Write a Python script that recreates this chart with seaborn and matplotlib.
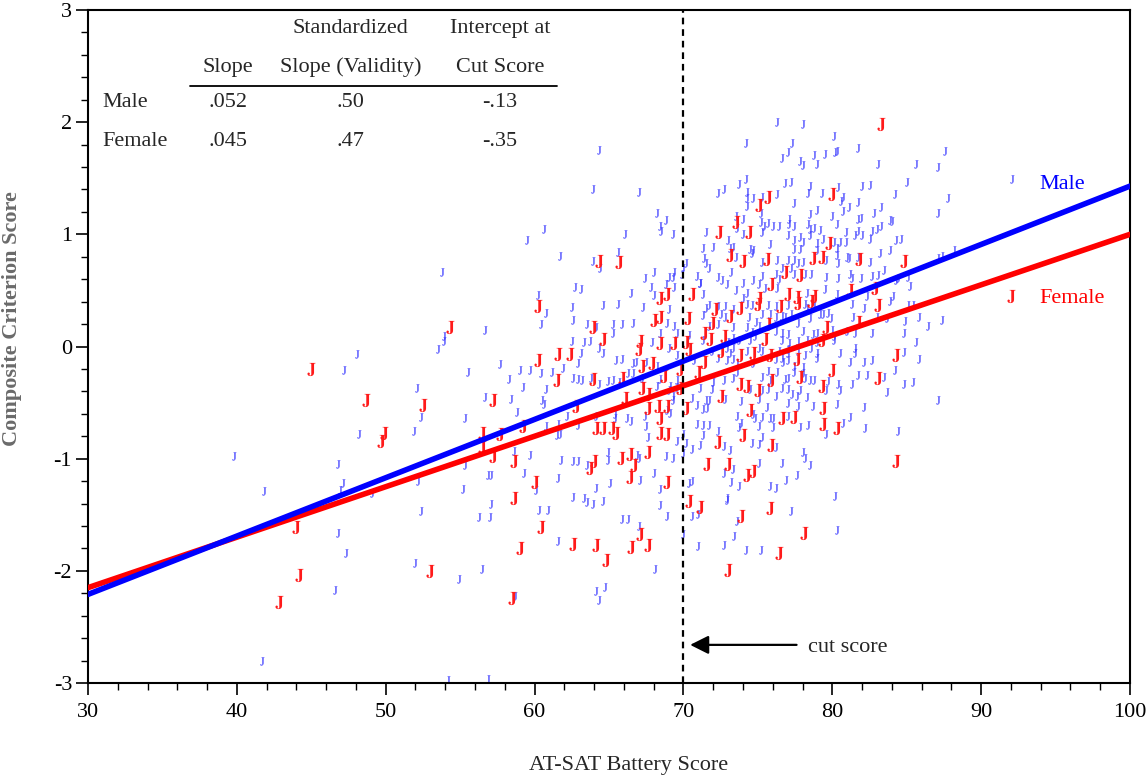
import numpy as np
import pandas as pd
import matplotlib
matplotlib.use("Agg")
import matplotlib.pyplot as plt
from matplotlib.ticker import MultipleLocator
import seaborn as sns

# ---------------- data ----------------
groups = ["Male", "Female"]
slopes = [0.052, 0.045]
validities = [0.50, 0.47]
cut_intercepts = [-0.13, -0.35]
cut_score = 70
x_range = [30, 100]
y_range = [-3, 3]
x_ticks = [30, 40, 50, 60, 70, 80, 90, 100]
y_ticks = [-3, -2, -1, 0, 1, 2, 3]

male_pts = [
    (53.8, 0.66),
    (64.3, 1.75), (63.9, 1.40), (67.0, 1.38), (68.2, 1.19), (68.8, 1.13), (68.4, 1.07), (68.5, 1.03), (69.3, 1.00),
    (60.6, 1.05), (59.5, 0.95), (66.1, 1.00), (61.7, 0.81), (65.6, 0.84), (63.9, 0.76), (64.4, 0.70), (60.2, 0.46),
    (62.7, 0.53), (63.1, 0.51), (66.5, 0.48), (67.4, 0.61), (68.0, 0.66), (67.8, 0.53), (68.0, 0.46), (68.8, 0.56),
    (69.0, 0.62), (69.3, 0.62), (69.4, 0.66), (69.4, 0.53), (70.0, 0.70), (70.2, 0.74), (69.9, 0.65), (70.9, 0.63),
    (71.1, 0.57),
    (76.3, 2.00), (78.0, 1.98), (80.1, 1.88), (74.2, 1.81), (77.3, 1.81), (77.0, 1.73), (76.6, 1.68), (78.8, 1.71),
    (79.5, 1.72), (80.2, 1.73), (80.3, 1.74), (81.7, 1.77), (87.6, 1.74), (77.8, 1.65), (78.0, 1.62), (79.0, 1.63),
    (83.1, 1.63), (85.6, 1.63), (87.1, 1.60), (74.2, 1.49), (73.7, 1.45), (76.8, 1.46), (77.2, 1.47), (78.5, 1.43),
    (79.3, 1.37), (80.4, 1.42), (82.0, 1.43), (82.5, 1.44), (85.0, 1.47), (72.3, 1.37), (72.7, 1.40), (74.3, 1.38),
    (78.4, 1.37), (84.2, 1.36), (87.8, 1.32), (74.3, 1.32), (74.7, 1.32), (75.3, 1.33), (76.3, 1.36), (80.7, 1.33),
    (80.6, 1.30), (81.7, 1.29), (74.3, 1.25), (77.4, 1.28), (78.5, 1.18), (79.0, 1.22), (81.1, 1.24), (80.7, 1.21),
    (83.3, 1.24), (82.8, 1.19), (73.5, 1.16), (74.0, 1.14), (75.2, 1.19), (77.1, 1.14), (80.0, 1.16), (81.7, 1.14),
    (81.9, 1.15), (83.9, 1.13), (87.1, 1.19), (71.5, 1.02), (73.6, 1.06), (75.2, 1.11), (75.4, 1.07), (75.7, 1.10),
    (76.0, 1.07), (76.4, 1.07), (77.1, 1.09), (77.4, 1.07), (78.4, 1.09), (78.5, 1.05), (78.8, 1.06), (79.2, 1.04),
    (80.3, 1.09), (80.9, 1.02), (81.7, 1.03), (82.0, 0.99), (82.7, 1.03), (83.0, 1.05), (83.3, 1.07), (73.0, 0.95),
    (73.3, 0.89), (74.0, 1.00), (75.3, 1.02), (75.8, 0.91), (77.0, 0.99), (77.4, 0.95), (77.8, 0.98), (78.0, 0.93),
    (78.5, 0.99), (79.0, 0.92), (79.4, 0.96), (80.1, 0.93), (80.5, 0.93), (80.3, 0.88), (80.9, 0.93), (81.5, 0.99),
    (82.5, 0.96), (84.3, 0.95), (84.6, 0.96), (71.3, 0.88), (72.0, 0.89), (73.1, 0.88), (74.5, 0.87), (74.7, 0.86),
    (74.6, 0.83), (77.4, 0.87), (77.8, 0.87), (79.0, 0.86), (80.3, 0.82), (81.0, 0.80), (81.7, 0.80), (83.2, 0.83),
    (83.9, 0.86), (71.4, 0.79), (71.5, 0.74), (71.7, 0.70), (73.5, 0.80), (75.3, 0.75), (76.3, 0.77), (77.0, 0.77),
    (77.4, 0.77), (77.7, 0.74), (78.0, 0.75), (79.6, 0.77), (80.4, 0.74), (81.1, 0.79), (82.5, 0.75), (72.3, 0.62),
    (72.6, 0.59), (72.9, 0.56), (73.2, 0.66), (74.0, 0.57), (74.7, 0.59), (75.3, 0.63), (75.1, 0.56), (76.2, 0.65),
    (76.4, 0.60), (76.6, 0.70), (77.2, 0.70), (77.4, 0.65), (78.2, 0.65), (78.6, 0.65), (79.6, 0.62), (80.4, 0.61),
    (81.2, 0.65), (81.3, 0.61), (81.9, 0.61), (82.7, 0.63), (83.1, 0.64), (83.5, 0.68), (84.3, 0.59), (85.1, 0.62),
    (71.1, 0.57), (71.3, 0.47), (73.5, 0.50), (74.3, 0.48), (74.0, 0.43), (75.5, 0.52), (76.3, 0.52), (78.3, 0.48),
    (79.5, 0.51), (80.3, 0.47), (82.3, 0.45), (84.1, 0.45), (85.2, 0.54),
    (92.1, 1.49), (84.0, 1.12), (87.1, 0.79), (87.4, 0.81), (88.2, 0.86), (83.9, 0.41), (85.1, 0.37), (85.4, 0.37),
    (84.9, 0.23), (85.8, 0.26), (86.4, 0.18), (87.4, 0.24), (84.4, 0.61),
    (48.1, -0.07), (47.2, -0.21), (53.9, 0.09), (53.9, 0.05), (53.5, -0.02), (52.1, -0.37), (52.4, -0.63), (51.9, -0.75),
    (48.2, -0.78), (39.8, -0.98), (46.8, -1.05), (47.1, -1.22), (52.2, -1.20), (41.8, -1.29), (46.9, -1.28), (49.1, -1.31),
    (46.8, -1.66), (47.3, -1.84), (46.6, -2.17), (52.0, -1.93), (52.4, -1.47), (54.9, -2.07), (41.7, -2.80), (54.2, -2.97),
    (57.1, -1.40), (56.3, -1.52), (57.0, -1.52), (60.3, -1.46), (60.9, -1.46), (63.5, -1.39), (63.9, -1.40), (64.6, -1.38),
    (68.4, -1.41), (68.9, -1.51), (65.9, -1.54), (66.3, -1.54), (67.0, -1.60), (61.6, -1.73), (56.5, -1.98), (68.1, -1.98),
    (64.1, -2.18), (64.7, -2.14), (64.3, -2.26), (58.7, -2.22), (56.9, -2.96), (70.0, -1.67), (70.6, -1.51), (71.0, -1.49),
    (71.0, -1.78),
    (73.6, -1.56), (73.4, -1.69), (72.7, -1.77), (74.2, -1.81), (75.2, -1.81), (77.2, -1.47), (80.3, -1.64), (72.9, -1.37),
    (71.5, 0.34), (71.7, 0.37), (72.3, 0.36), (72.8, 0.36), (73.3, 0.33), (74.3, 0.38), (74.6, 0.37), (75.7, 0.37),
    (76.2, 0.36), (77.0, 0.37), (78.2, 0.38), (78.3, 0.34), (78.8, 0.36), (81.3, 0.38), (82.1, 0.34),
    (71.3, 0.28), (72.5, 0.29), (72.8, 0.26), (74.4, 0.26), (74.9, 0.22), (75.3, 0.29), (75.8, 0.29), (76.2, 0.26),
    (76.6, 0.27), (76.8, 0.26), (77.2, 0.29), (77.7, 0.21), (78.5, 0.25), (79.2, 0.29), (79.4, 0.29), (79.7, 0.30),
    (79.9, 0.25), (81.4, 0.26), (83.0, 0.26), (83.7, 0.25),
    (71.7, 0.18), (72.3, 0.20), (73.3, 0.17), (74.3, 0.17), (74.6, 0.13), (75.1, 0.18), (76.2, 0.14), (76.6, 0.12),
    (77.0, 0.11), (78.0, 0.14), (78.7, 0.11), (79.0, 0.12), (80.0, 0.15), (80.1, 0.09), (81.0, 0.14), (81.5, 0.12),
    (82.7, 0.12), (84.8, 0.12), (71.3, 0.06), (73.0, 0.04), (73.3, 0.08), (73.7, 0.06), (74.5, 0.06), (74.8, 0.09),
    (76.6, 0.06), (77.1, 0.03), (77.7, 0.05), (78.3, 0.06), (79.0, 0.04), (80.1, 0.06), (85.6, 0.04),
    (71.9, -0.04), (72.9, -0.01), (73.1, -0.06), (73.3, -0.01), (74.3, -0.04), (75.1, -0.01), (75.3, -0.04), (76.4, -0.04),
    (77.0, -0.02), (77.0, -0.06), (77.7, -0.04), (78.6, -0.01), (79.0, -0.06), (80.5, -0.06), (81.5, -0.01), (81.5, -0.06),
    (84.8, -0.05), (85.8, -0.11), (72.3, -0.10), (72.9, -0.12), (73.3, -0.11), (76.2, -0.11), (76.6, -0.10), (77.0, -0.12),
    (78.2, -0.08), (79.0, -0.10), (81.2, -0.14), (82.1, -0.14), (82.7, -0.12), (73.6, -0.15), (74.7, -0.15), (76.7, -0.14),
    (77.4, -0.17), (78.0, -0.18), (84.2, -0.21),
    (72.0, -0.32), (72.7, -0.30), (73.3, -0.28), (73.6, -0.23), (75.3, -0.27), (75.7, -0.22), (75.8, -0.30), (76.3, -0.23),
    (76.8, -0.29), (77.0, -0.28), (77.4, -0.23), (78.0, -0.24), (78.2, -0.28), (78.5, -0.30), (78.8, -0.30), (79.7, -0.31),
    (80.4, -0.33), (81.3, -0.33), (81.7, -0.25), (82.3, -0.25), (83.5, -0.27), (84.8, -0.33), (85.4, -0.32), (71.1, -0.37),
    (71.9, -0.38), (74.5, -0.38), (75.3, -0.39), (75.7, -0.38), (76.2, -0.44), (76.6, -0.37), (77.0, -0.38), (77.3, -0.42),
    (77.6, -0.44), (77.8, -0.39), (78.3, -0.45), (79.6, -0.39), (80.5, -0.39), (83.7, -0.41), (71.5, -0.48), (71.7, -0.48),
    (72.8, -0.47), (73.9, -0.49), (75.1, -0.47), (77.0, -0.50), (77.7, -0.53), (78.7, -0.53), (80.3, -0.51), (87.1, -0.48),
    (71.3, -0.56), (71.6, -0.55), (73.6, -0.62), (73.9, -0.68), (74.7, -0.60), (74.8, -0.64), (75.3, -0.63), (75.6, -0.54),
    (75.8, -0.64), (76.0, -0.64), (77.0, -0.62), (77.8, -0.72), (78.4, -0.70), (80.7, -0.68), (81.2, -0.63), (82.1, -0.54),
    (82.2, -0.73), (84.4, -0.75), (71.3, -0.70), (71.7, -0.70), (73.7, -0.72), (75.1, -0.71), (76.0, -0.72), (74.6, -0.86),
    (75.1, -0.87), (75.3, -0.81), (76.2, -0.90), (71.3, -0.79), (72.3, -0.75), (72.7, -0.89), (73.1, -0.92), (79.6, -0.78),
    (78.0, -0.94), (78.2, -0.99),
    (73.3, -1.09), (75.1, -1.04), (76.6, -1.04), (78.5, -1.06), (72.7, -1.13), (73.2, -1.21), (73.7, -1.24), (75.8, -1.24),
    (76.2, -1.26), (76.9, -1.19), (77.6, -1.15), (80.2, -1.33), (72.9, -1.35),
    (62.5, 0.35), (64.6, 0.37), (65.6, 0.38), (67.3, 0.35), (69.0, 0.33), (60.8, 0.30), (63.5, 0.20), (64.1, 0.17),
    (65.3, 0.20), (65.9, 0.20), (66.6, 0.21), (68.9, 0.21), (69.4, 0.18), (62.6, 0.24), (60.4, 0.20), (56.7, 0.15),
    (65.3, 0.12), (68.4, 0.12), (69.6, 0.12), (70.4, 0.10), (62.5, 0.05), (63.3, 0.04), (63.7, 0.05), (64.3, -0.01),
    (67.9, 0.04), (69.0, -0.01), (63.1, -0.06), (64.6, -0.06), (65.5, -0.12), (65.9, -0.11), (62.9, -0.15), (66.6, -0.15),
    (66.8, -0.14), (67.5, -0.14), (68.2, -0.17), (69.6, -0.08), (70.7, -0.12), (57.7, -0.16), (55.5, -0.23), (59.0, -0.21),
    (59.7, -0.21), (60.4, -0.24), (61.2, -0.23), (61.9, -0.19), (58.3, -0.29), (62.6, -0.28), (62.9, -0.29), (63.2, -0.30),
    (63.8, -0.28), (64.3, -0.33), (64.9, -0.31), (65.3, -0.30), (65.7, -0.32), (66.3, -0.24), (66.6, -0.24), (67.2, -0.28),
    (68.2, -0.35), (69.1, -0.35), (69.6, -0.30), (59.2, -0.36), (60.8, -0.38), (68.4, -0.29), (69.6, -0.36), (69.0, -0.39),
    (69.3, -0.44), (69.3, -0.48), (68.9, -0.57), (69.1, -0.59), (70.6, -0.46), (70.9, -0.52), (56.7, -0.45), (58.4, -0.47),
    (60.5, -0.48), (60.6, -0.51), (62.2, -0.62), (58.8, -0.58), (61.6, -0.69), (62.9, -0.70), (64.1, -0.62), (65.4, -0.60),
    (65.4, -0.64), (66.2, -0.64), (66.5, -0.66), (67.4, -0.62), (67.5, -0.71), (55.3, -0.64), (60.8, -0.71), (61.5, -0.79),
    (61.7, -0.78), (67.6, -0.81), (69.6, -0.84), (70.2, -0.86), (70.0, -0.78), (70.9, -0.69), (58.6, -0.93), (59.7, -0.97),
    (61.8, -1.01), (62.6, -1.02), (62.9, -1.02), (63.5, -1.06), (64.9, -0.94), (64.9, -1.01), (66.9, -0.97), (67.0, -0.99),
    (68.8, -0.98), (69.3, -0.99), (70.0, -0.95), (70.6, -0.91), (71.1, -0.88), (55.3, -1.06), (56.9, -1.15), (57.1, -1.15),
    (59.3, -1.13), (61.6, -1.17), (65.1, -1.22), (67.1, -1.19), (68.0, -1.13), (55.2, -1.27), (60.1, -1.28), (62.6, -1.34),
    (63.3, -1.35), (64.1, -1.26), (68.4, -1.27), (70.4, -1.22), (70.6, -1.20),
]
male_x = [p[0] for p in male_pts]
male_y = [p[1] for p in male_pts]

female_x = [45.0, 48.7, 52.5, 49.9, 49.7, 54.3, 44.0, 44.2, 42.8, 53.0,
            60.2, 63.9, 64.6, 67.1, 67.0, 68.4, 68.0, 68.4, 70.3, 69.4,
            70.2, 70.4, 60.2, 61.6, 62.4, 63.9, 61.5, 65.9, 67.2, 67.9,
            68.7, 69.8, 71.0, 67.2, 67.6, 66.1, 67.6, 68.3, 68.9, 69.8,
            70.2, 57.2, 62.8, 68.4, 56.5, 57.7, 59.2, 64.1, 64.6, 65.2,
            65.5, 68.4, 68.9, 56.5, 57.2, 58.6, 65.8, 66.4, 66.7, 67.6,
            64.0, 63.7, 66.4, 60.0, 68.9, 58.6, 70.4, 64.3, 65.7, 68.9,
            68.4, 70.6, 60.4, 59.0, 62.6, 64.1, 64.8, 66.5, 67.1, 67.6,
            58.5, 83.3, 80.0, 75.7, 75.1, 73.5, 72.4, 74.4, 73.1, 74.0,
            75.6, 79.8, 78.7, 79.3, 81.8, 84.8, 76.8, 77.8, 75.9, 77.0,
            77.6, 78.8, 75.1, 81.2, 82.9, 72.1, 73.1, 73.8, 75.0, 76.5,
            77.7, 78.6, 83.1, 71.9, 75.7, 79.6, 81.7, 71.4, 71.8, 72.7,
            72.5, 75.5, 79.3, 73.8, 74.7, 75.8, 77.6, 84.3, 71.4, 80.0,
            77.8, 83.1, 73.8, 74.3, 75.0, 75.9, 79.3, 72.5, 74.5, 76.6,
            77.4, 79.4, 79.4, 80.3, 74.0, 72.3, 75.9, 71.6, 73.0, 74.3,
            74.7, 84.3, 71.1, 73.9, 75.8, 78.1, 76.4, 73.0, 92.0]
female_y = [-0.20, -0.48, -0.52, -0.77, -0.84, 0.17, -1.61, -2.04, -2.28, -2.00,
            0.36, 0.17, 0.07, 0.05, -0.02, 0.03, 0.24, 0.26, 0.25, 0.03,
            0.04, -0.02, -0.12, -0.07, -0.07, -0.29, -0.30, -0.28, -0.17, -0.15,
            -0.26, -0.20, -0.23, -0.37, -0.42, -0.46, -0.55, -0.53, -0.53, -0.37,
            -0.55, -0.48, -0.53, -0.64, -0.77, -0.78, -0.71, -0.73, -0.73, -0.73,
            -0.77, -0.77, -0.78, -0.90, -0.98, -1.02, -0.99, -0.96, -1.06, -0.94,
            -1.02, -1.08, -1.16, -1.21, -1.21, -1.35, -1.38, 0.76, 0.75, 0.47,
            0.43, 0.47, -1.61, -1.80, -1.76, -1.77, -1.90, -1.79, -1.67, -1.77,
            -2.24, 1.98, 1.36, 1.33, 1.26, 1.11, 1.02, 1.02, 0.82, 0.76,
            0.78, 0.92, 0.79, 0.80, 0.78, 0.76, 0.66, 0.64, 0.56, 0.47,
            0.44, 0.45, 0.43, 0.50, 0.52, 0.33, 0.27, 0.34, 0.38, 0.36,
            0.39, 0.41, 0.37, 0.21, 0.20, 0.17, 0.22, 0.12, 0.07, 0.09,
            -0.04, 0.07, 0.06, -0.08, -0.06, -0.08, -0.11, -0.08, -0.14, -0.21,
            -0.27, -0.28, -0.33, -0.35, -0.39, -0.30, -0.35, -0.44, -0.57, -0.64,
            -0.63, -0.55, -0.69, -0.73, -0.79, -0.85, -0.88, -1.05, -1.05, -1.15,
            -1.11, -1.02, -1.43, -1.51, -1.44, -1.66, -1.84, -1.99, 0.45]

# ---------------- style ----------------
sns.set_style("ticks")
plt.rcParams.update({
    "axes.linewidth": 1.5,
    "axes.edgecolor": "black",
    "axes.unicode_minus": False,
    "xtick.direction": "out",
    "ytick.direction": "out",
    "xtick.major.size": 8.5,
    "ytick.major.size": 8.5,
    "xtick.minor.size": 5,
    "ytick.minor.size": 5,
    "xtick.major.width": 1.2,
    "ytick.major.width": 1.2,
    "xtick.minor.width": 1.0,
    "ytick.minor.width": 1.0,
    "xtick.color": "black",
    "ytick.color": "black",
    "mathtext.fontset": "stix",
})
plt.rcParams["font.family"] = ["Liberation Serif", "DejaVu Serif"]

fig = plt.figure(figsize=(11.46, 7.8), dpi=100)
ax = fig.add_axes([88 / 1146, 1 - 683 / 780, 1042 / 1146, 673 / 780])

male_df = pd.DataFrame({"score": male_x, "criterion": male_y})
female_df = pd.DataFrame({"score": female_x, "criterion": female_y})

sns.scatterplot(data=male_df, x="score", y="criterion", ax=ax,
                marker=r"$\mathrm{J}$", s=36, color="#3838ff",
                linewidth=0, legend=False, zorder=2)
sns.scatterplot(data=female_df, x="score", y="criterion", ax=ax,
                marker=r"$\mathbf{J}$", s=90, color="#ff1a1a",
                linewidth=0, legend=False, zorder=3)

# regression lines from slope / intercept at cut score
line_rows = []
for g, b, a in zip(groups, slopes, cut_intercepts):
    for xv in x_range:
        line_rows.append({"group": g, "score": xv, "pred": a + b * (xv - cut_score)})
line_df = pd.DataFrame(line_rows)
sns.lineplot(data=line_df, x="score", y="pred", hue="group",
             hue_order=["Female", "Male"],
             palette={"Male": "#0000ff", "Female": "#ff0000"},
             linewidth=4, legend=False, ax=ax, zorder=4)

# cut score line
ax.axvline(cut_score, color="black", linewidth=1.6, linestyle=(0, (3, 2.2)), zorder=5)
ax.annotate("", xy=(cut_score + 0.45, -2.66), xytext=(77.6, -2.66),
            arrowprops=dict(arrowstyle="-|>", color="black", lw=1.6,
                            mutation_scale=28, shrinkA=0, shrinkB=0))
ax.text(78.4, -2.68, "cut score", fontsize=16, ha="left", va="center")

# line labels
ax.text(93.9, 1.44, "Male", color="#0000ff", fontsize=16, ha="left", va="center")
ax.text(93.9, 0.43, "Female", color="#ff0000", fontsize=16, ha="left", va="center")

# table
def fmt(v, nd):
    s = f"{abs(v):.{nd}f}"
    s = s[1:] if s.startswith("0") else s
    return ("-" if v < 0 else "") + s

col_x = [0.134, 0.252, 0.3955]
tr = ax.transAxes
ax.text(col_x[1], 0.972, "Standardized", transform=tr, fontsize=16, ha="center", va="center")
ax.text(col_x[2], 0.972, "Intercept at", transform=tr, fontsize=16, ha="center", va="center")
ax.text(col_x[0], 0.915, "Slope", transform=tr, fontsize=16, ha="center", va="center")
ax.text(col_x[1], 0.915, "Slope (Validity)", transform=tr, fontsize=16, ha="center", va="center")
ax.text(col_x[2], 0.915, "Cut Score", transform=tr, fontsize=16, ha="center", va="center")
ax.plot([0.098, 0.450], [0.887, 0.887], transform=tr, color="black", lw=1.3)
row_y = [0.862, 0.805]
for g, b, v, a, ry in zip(groups, slopes, validities, cut_intercepts, row_y):
    ax.text(0.0134, ry, g, transform=tr, fontsize=16, ha="left", va="center")
    ax.text(col_x[0], ry, fmt(b, 3), transform=tr, fontsize=16, ha="center", va="center")
    ax.text(col_x[1], ry, fmt(v, 2), transform=tr, fontsize=16, ha="center", va="center")
    ax.text(col_x[2], ry, fmt(a, 2), transform=tr, fontsize=16, ha="center", va="center")

# axes
ax.set_xlim(x_range)
ax.set_ylim(y_range)
ax.set_xticks(x_ticks)
ax.set_yticks(y_ticks)
ax.xaxis.set_minor_locator(MultipleLocator(2))
ax.yaxis.set_minor_locator(MultipleLocator(0.2))
ax.tick_params(axis="x", which="major", labelsize=16, pad=6)
ax.tick_params(axis="y", which="major", labelsize=16, pad=3)
for s in ["top", "right", "left", "bottom"]:
    ax.spines[s].set_visible(True)
    ax.spines[s].set_linewidth(1.5)

ax.set_xlabel("AT-SAT Battery Score", fontsize=16)
ax.xaxis.set_label_coords(0.519, -0.108)
ax.set_ylabel("Composite Criterion Score", fontsize=16, color="#6a6a6a", fontweight="bold")
ax.yaxis.set_label_coords(-0.063, 0.541)

fig.savefig("out.png", dpi=100)
